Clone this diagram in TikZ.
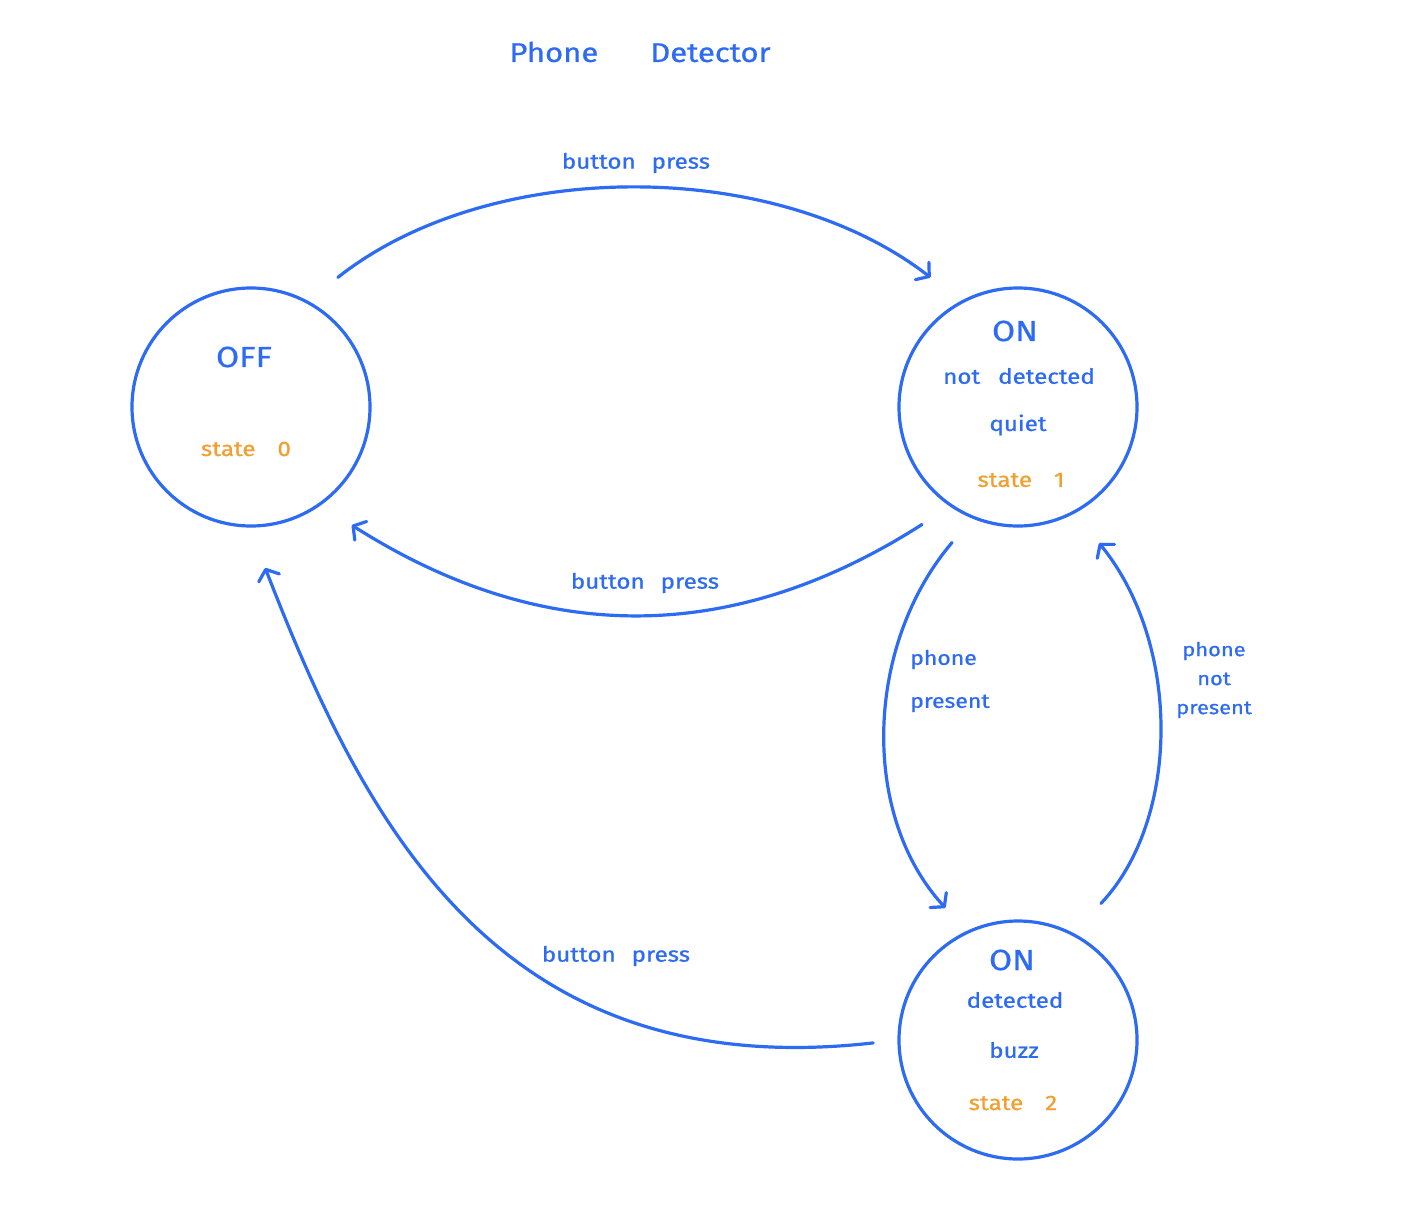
\documentclass[tikz,border=0pt]{standalone}
\usepackage{fontspec}
\setmainfont{Fira Sans}[FakeStretch=1.15,FakeBold=0.8]
\usetikzlibrary{arrows.meta}
\definecolor{pen}{HTML}{2D6BF2}
\definecolor{orangeink}{HTML}{F0A030}
\begin{document}
\begin{tikzpicture}[x=1pt,y=-1pt,
  statenode/.style={circle,draw=pen,line width=3.2pt,minimum size=238pt,inner sep=0pt,outer sep=0pt},
  trans/.style={draw=pen,line width=3.2pt,line cap=round,line join=round,
    -{Straight Barb[length=9pt,width=22pt,line cap=round,line join=round]}},
  lbl/.style={text=pen,inner sep=0pt,font=\fontsize{21}{28}\selectfont},
  big/.style={text=pen,inner sep=0pt,font=\fontsize{29}{32}\selectfont},
  title/.style={text=pen,inner sep=0pt,font=\fontsize{27}{30}\selectfont},
  stlbl/.style={text=orangeink,inner sep=0pt,font=\fontsize{21}{24}\selectfont}
]
\fill[white] (0,0) rectangle (1404,1212);
\useasboundingbox (0,0) rectangle (1404,1212);

% states
\node[statenode] (off) at (251,407) {};
\node[statenode] (s1) at (1018,407) {};
\node[statenode] (s2) at (1018,1040) {};

% title
\node[title] (title) at (640,52) {Phone\hspace{52pt}Detector};

% state texts
\node[big] (offtxt) at (244,357) {OFF};
\node[stlbl] (offst) at (246,449) {state\hspace{22pt}0};

\node[big] (s1on) at (1015,331) {ON};
\node[lbl] (s1a) at (1019,376) {not\hspace{18pt}detected};
\node[lbl] (s1b) at (1018,425) {quiet};
\node[stlbl] (s1st) at (1021,480) {state\hspace{22pt}1};

\node[big] (s2on) at (1012,960) {ON};
\node[lbl] (s2a) at (1015,1000) {detected};
\node[lbl] (s2b) at (1014,1050) {buzz};
\node[stlbl] (s2st) at (1013,1103) {state\hspace{22pt}2};

% transitions
\draw[trans,shorten <=39.5pt,shorten >=40pt] (off.62.5) .. controls (490,157) and (775,157) .. (s1.118.9);
\draw[trans,shorten <=35pt,shorten >=38.5pt] (s1.236.6) .. controls (732,646) and (542,646) .. (off.305.1);
\draw[trans,shorten <=33pt,shorten >=33pt] (s1.248.7) .. controls (865,645) and (860,815) .. (s2.115.2);
\draw[trans,shorten <=42pt,shorten >=40pt] (s2.63.2) .. controls (1180,820) and (1182,645) .. (s1.298.5);
\draw[trans,shorten <=26pt,shorten >=45pt] (s2.180.5) .. controls (500,1085) and (366,828) .. (off.269.4);

% transition labels
\node[lbl] (bp1) at (636,163) {button\hspace{16pt}press};
\node[lbl] (bp2) at (645,583) {button\hspace{16pt}press};
\node[lbl] (bp3) at (616,956) {button\hspace{16pt}press};
\node[lbl,align=left,anchor=west,font=\fontsize{20}{43}\selectfont] (pp) at (910,681) {phone\\present};
\node[lbl,align=center,font=\fontsize{19}{29}\selectfont] (pnp) at (1214,680) {phone\\not\\present};
\end{tikzpicture}
\end{document}
